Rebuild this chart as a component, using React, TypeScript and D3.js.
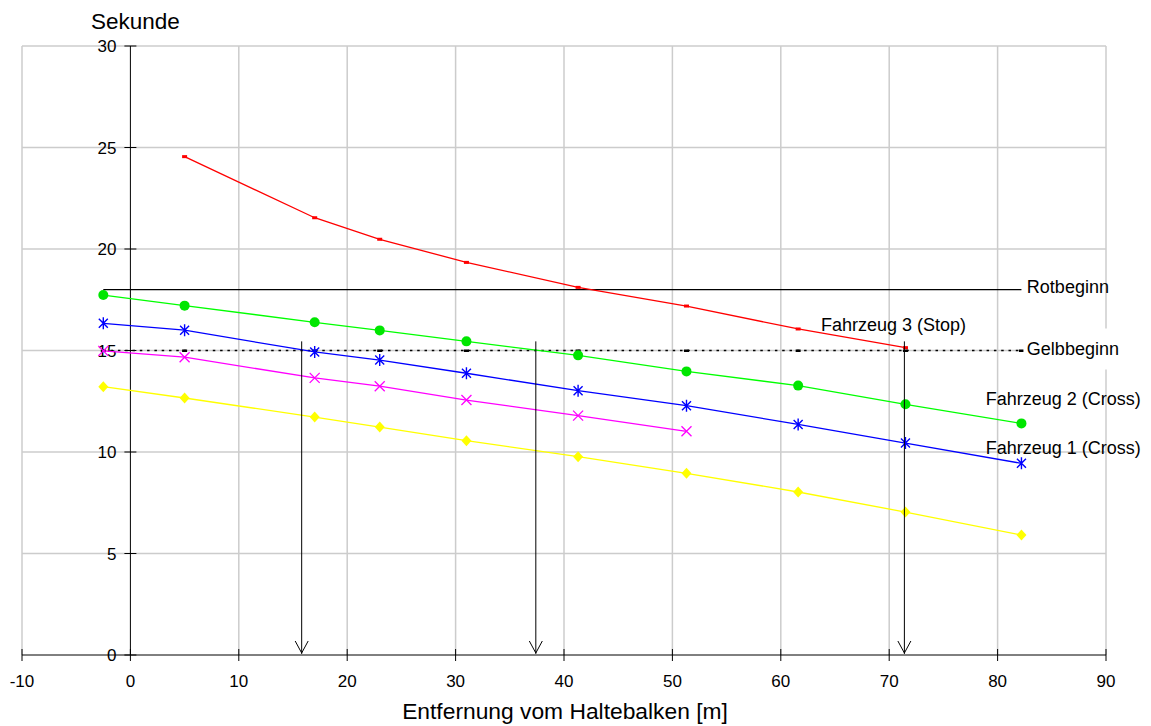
import React, { useEffect, useRef } from "react";
import * as d3 from "d3";

// distances of the measuring points (m)
const distances = [-2.5, 5, 17, 23, 31, 41.3, 51.3, 61.6, 71.5, 82.2];

const fahrzeug3 = [24.55, 21.54, 20.48, 19.34, 18.11, 17.19, 16.06, 15.14]; // from distances[1]
const fahrzeug2 = [17.73, 17.21, 16.39, 15.99, 15.45, 14.76, 13.97, 13.27, 12.35, 11.41];
const fahrzeug1 = [16.34, 16.0, 14.93, 14.53, 13.88, 13.02, 12.28, 11.36, 10.44, 9.44];
const magentaSeries = [14.98, 14.67, 13.65, 13.24, 12.56, 11.79, 11.02];
const yellowSeries = [13.22, 12.66, 11.72, 11.23, 10.56, 9.77, 8.95, 8.03, 7.04, 5.91];

const rotbeginn = 18;
const gelbbeginn = 15;

const arrowX = [15.8, 37.4, 71.4];
const arrowTop = 15.45;

const xTicks = [-10, 0, 10, 20, 30, 40, 50, 60, 70, 80, 90];
const yTicks = [0, 5, 10, 15, 20, 25, 30];

// label anchors in data units
const labels = [
  { text: "Rotbeginn", x: 82.7, y: 17.85 },
  { text: "Gelbbeginn", x: 82.7, y: 14.8 },
  { text: "Fahrzeug 3 (Stop)", x: 63.7, y: 15.95 },
  { text: "Fahrzeug 2 (Cross)", x: 78.9, y: 12.3 },
  { text: "Fahrzeug 1 (Cross)", x: 78.9, y: 9.9 },
];

const W = 1151;
const H = 726;
const FONT = "'Liberation Sans', Arial, sans-serif";

function App() {
  const svgRef = useRef<SVGSVGElement>(null);

  useEffect(() => {
    const svg = d3.select(svgRef.current);
    svg.selectAll("*").remove();

    const x = d3.scaleLinear().domain([-10, 90]).range([22, 1106]);
    const y = d3.scaleLinear().domain([0, 30]).range([655, 46]);

    const grid = svg.append("g").attr("stroke", "#cccccc").attr("stroke-width", 1.5);
    grid
      .selectAll("line.v")
      .data(xTicks.filter((t) => t !== 0))
      .join("line")
      .attr("x1", (d) => x(d))
      .attr("x2", (d) => x(d))
      .attr("y1", y(0))
      .attr("y2", y(30));
    grid
      .selectAll("line.h")
      .data(yTicks.filter((t) => t !== 0))
      .join("line")
      .attr("x1", x(-10))
      .attr("x2", x(90))
      .attr("y1", (d) => y(d))
      .attr("y2", (d) => y(d));

    // axes
    const ax = svg.append("g").attr("stroke", "#000").attr("stroke-width", 1);
    ax.append("line").attr("x1", x(-10)).attr("x2", x(90)).attr("y1", y(0)).attr("y2", y(0));
    ax.append("line").attr("x1", x(0)).attr("x2", x(0)).attr("y1", y(0)).attr("y2", y(30));
    ax.selectAll("line.xt")
      .data(xTicks)
      .join("line")
      .attr("x1", (d) => x(d))
      .attr("x2", (d) => x(d))
      .attr("y1", y(0) - 6)
      .attr("y2", y(0) + 6);
    ax.selectAll("line.yt")
      .data(yTicks)
      .enter()
      .append("line")
      .attr("x1", x(0) - 6)
      .attr("x2", x(0) + 6)
      .attr("y1", (d) => y(d))
      .attr("y2", (d) => y(d));

    const txt = svg.append("g").attr("font-family", FONT).attr("fill", "#000");
    txt.selectAll("text.xl")
      .data(xTicks)
      .join("text")
      .attr("x", (d) => x(d))
      .attr("y", 687)
      .attr("text-anchor", "middle")
      .attr("font-size", 17)
      .text((d) => d);
    txt.selectAll("text.yl")
      .data(yTicks)
      .enter()
      .append("text")
      .attr("x", x(0) - 14)
      .attr("y", (d) => y(d) + 6)
      .attr("text-anchor", "end")
      .attr("font-size", 17)
      .text((d) => d);
    txt.append("text").attr("x", 91).attr("y", 29).attr("font-size", 22.5).text("Sekunde");
    txt.append("text")
      .attr("x", 565)
      .attr("y", 719)
      .attr("text-anchor", "middle")
      .attr("font-size", 22.8)
      .text("Entfernung vom Haltebalken [m]");

    const line = d3
      .line<[number, number]>()
      .x((d) => x(d[0]))
      .y((d) => y(d[1]));

    const pts = (vals: number[], offset = 0) =>
      vals.map((v, i) => [distances[i + offset], v] as [number, number]);

    // reference lines
    const rot = distances.map((d) => [d, rotbeginn] as [number, number]);
    const gelb = distances.map((d) => [d, gelbbeginn] as [number, number]);
    svg.append("path").attr("d", line(rot)).attr("fill", "none").attr("stroke", "#000").attr("stroke-width", 1.2);
    svg.append("path")
      .attr("d", line(gelb))
      .attr("fill", "none")
      .attr("stroke", "#000")
      .attr("stroke-width", 1.5)
      .attr("stroke-dasharray", "2.5 4.8");
    svg.selectAll("rect.gm")
      .data(gelb)
      .enter()
      .append("rect")
      .attr("x", (d) => x(d[0]) - 2.5)
      .attr("y", (d) => y(d[1]) - 1)
      .attr("width", 5)
      .attr("height", 2.5)
      .attr("fill", "#000");

    // series
    const drawLine = (data: [number, number][], color: string) =>
      svg.append("path").attr("d", line(data)).attr("fill", "none").attr("stroke", color).attr("stroke-width", 1.3);

    const redPts = pts(fahrzeug3, 1);
    const greenPts = pts(fahrzeug2);
    const bluePts = pts(fahrzeug1);
    const magPts = pts(magentaSeries);
    const yelPts = pts(yellowSeries);

    drawLine(yelPts, "#ffff00");
    drawLine(magPts, "#ff00ff");
    drawLine(bluePts, "#0000ff");
    drawLine(greenPts, "#00ff00");
    drawLine(redPts, "#ff0000");

    svg.selectAll("path.dia")
      .data(yelPts)
      .enter()
      .append("path")
      .attr("d", (d) => {
        const cx = x(d[0]), cy = y(d[1]);
        return `M${cx},${cy - 5.5}L${cx + 5},${cy}L${cx},${cy + 5.5}L${cx - 5},${cy}Z`;
      })
      .attr("fill", "#ffff00");

    svg.selectAll("path.xm")
      .data(magPts)
      .enter()
      .append("path")
      .attr("d", (d) => {
        const cx = x(d[0]), cy = y(d[1]);
        return `M${cx - 5},${cy - 5}L${cx + 5},${cy + 5}M${cx - 5},${cy + 5}L${cx + 5},${cy - 5}`;
      })
      .attr("stroke", "#ff00ff")
      .attr("stroke-width", 1.3);

    svg.selectAll("path.star")
      .data(bluePts)
      .enter()
      .append("path")
      .attr("d", (d) => {
        const cx = x(d[0]), cy = y(d[1]);
        return `M${cx - 4.5},${cy - 4.5}L${cx + 4.5},${cy + 4.5}M${cx - 4.5},${cy + 4.5}L${cx + 4.5},${cy - 4.5}M${cx},${cy - 6}L${cx},${cy + 6}`;
      })
      .attr("stroke", "#0000ff")
      .attr("stroke-width", 1.4);

    svg.selectAll("circle.g")
      .data(greenPts)
      .enter()
      .append("circle")
      .attr("cx", (d) => x(d[0]))
      .attr("cy", (d) => y(d[1]))
      .attr("r", 5)
      .attr("fill", "#00e600");

    svg.selectAll("rect.rm")
      .data(redPts)
      .enter()
      .append("rect")
      .attr("x", (d) => x(d[0]) - 2.5)
      .attr("y", (d) => y(d[1]) - 1.5)
      .attr("width", 5)
      .attr("height", 3)
      .attr("fill", "#ff0000");

    // arrows
    const arr = svg.append("g").attr("stroke", "#000").attr("stroke-width", 1).attr("fill", "none");
    arrowX.forEach((ax0) => {
      const px = x(ax0);
      arr.append("line").attr("x1", px).attr("x2", px).attr("y1", y(arrowTop)).attr("y2", y(0) - 1);
      arr.append("path").attr("d", `M${px - 6.5},${y(0) - 14}L${px},${y(0) - 2}L${px + 6.5},${y(0) - 14}`);
    });

    // labels
    svg.append("rect")
      .attr("x", x(82.2) + 2)
      .attr("y", y(gelbbeginn) - 22)
      .attr("width", 130)
      .attr("height", 41)
      .attr("fill", "#fff");
    svg.append("g")
      .attr("font-family", FONT)
      .attr("font-size", 18)
      .selectAll("text")
      .data(labels)
      .join("text")
      .attr("x", (d) => x(d.x))
      .attr("y", (d) => y(d.y))
      .text((d) => d.text);
  }, []);

  return (
    <div style={{ position: "absolute", left: 0, top: 0 }}>
      <svg ref={svgRef} width={W} height={H} style={{ display: "block", background: "#fff" }}></svg>
    </div>
  );
}

export default App;
